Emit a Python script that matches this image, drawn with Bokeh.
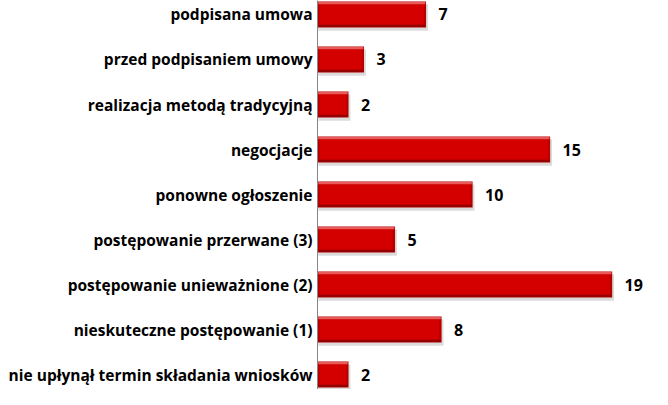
from bokeh.plotting import figure
from bokeh.models import Range1d, FixedTicker, ColumnDataSource
from bokeh.core.properties import value
from bokeh.embed import file_html
from bokeh.resources import INLINE

categories = [
    "podpisana umowa",
    "przed podpisaniem umowy",
    "realizacja metodą tradycyjną",
    "negocjacje",
    "ponowne ogłoszenie",
    "postępowanie przerwane (3)",
    "postępowanie unieważnione (2)",
    "nieskuteczne postępowanie (1)",
    "nie upłynął termin składania wniosków",
]
counts = [7, 3, 2, 15, 10, 5, 19, 8, 2]

n = len(categories)
ypos = [n - 1 - i for i in range(n)]
FONT = "Open Sans"

src = ColumnDataSource(dict(
    y=ypos,
    v=counts,
    lbl=[str(c) for c in counts],
    vx=[c + 0.8 for c in counts],
    ys=[y - 0.07 for y in ypos],
    vs=[c + 0.12 for c in counts],
    yt=[y + 0.255 for y in ypos],
    yb=[y - 0.255 for y in ypos],
    vi=[c - 0.15 for c in counts],
    ve=[c - 0.05 for c in counts],
))

p = figure(width=652, height=389, output_backend="svg", toolbar_location=None,
           x_range=Range1d(0, 21.6), y_range=Range1d(-0.333, 8.311),
           min_border_left=317, min_border_right=0, min_border_top=0, min_border_bottom=0)

p.xaxis.visible = False
p.xgrid.visible = False
p.ygrid.visible = False
p.outline_line_color = None
p.background_fill_color = "white"
p.border_fill_color = "white"

yax = p.yaxis[0]
yax.ticker = FixedTicker(ticks=ypos)
yax.major_label_overrides = {y: c for y, c in zip(ypos, categories)}
yax.major_tick_line_color = None
yax.minor_tick_line_color = None
yax.major_tick_out = 0
yax.major_tick_in = 0
yax.minor_tick_out = 0
yax.axis_line_color = "#868686"
yax.axis_line_width = 1
yax.major_label_standoff = 5
yax.major_label_text_font = FONT
yax.major_label_text_font_style = "bold"
yax.major_label_text_font_size = "15.5px"
yax.major_label_text_color = "#000000"

H = 0.58
# shadow
p.hbar(y="ys", left=0.05, right="vs", height=H, source=src, fill_color="#bdbdbd", fill_alpha=0.55, line_color=None)
# main bar
p.hbar(y="y", left=0, right="v", height=H, source=src, fill_color="#B80000", line_color=None)
# inner face
p.hbar(y="y", left=0.15, right="vi", height=H - 0.12, source=src,
       fill_color="#D40000", line_color=None)
# top highlight
p.hbar(y="yt", left=0.05, right="ve", height=0.05, source=src,
       fill_color="#E85A5A", line_color=None)
# bottom dark edge
p.hbar(y="yb", left=0.05, right="ve", height=0.05, source=src,
       fill_color="#950000", line_color=None)

p.text(x="vx", y="y", text="lbl", source=src, text_font=value(FONT), text_font_style="bold",
       text_font_size="16px", text_baseline="middle", text_align="left", text_color="#000000")

open("out.html", "w").write(file_html(p, INLINE))
